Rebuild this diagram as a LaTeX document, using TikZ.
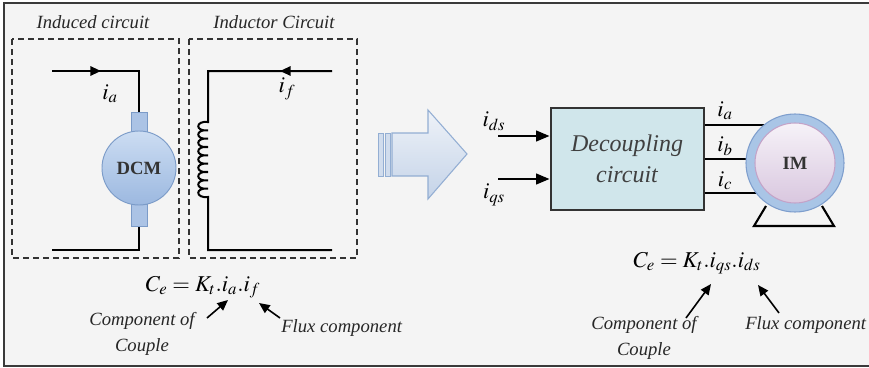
\documentclass[tikz,border=0pt]{standalone}
\usepackage{mathptmx}
\usepackage{fontspec}
\setmainfont{Liberation Serif}
\usetikzlibrary{arrows.meta,calc}

\definecolor{panel}{HTML}{F4F4F4}
\definecolor{framec}{HTML}{3A3A3A}
\definecolor{dashc}{HTML}{333333}
\definecolor{dcmtop}{HTML}{CCDDF2}
\definecolor{dcmbot}{HTML}{9CB8E0}
\definecolor{dcmedge}{HTML}{7B9BC8}
\definecolor{decfill}{HTML}{D0E6EB}
\definecolor{ringfill}{HTML}{A9C5E6}
\definecolor{ringedge}{HTML}{7E9ECD}
\definecolor{imtop}{HTML}{F6F2F8}
\definecolor{imbot}{HTML}{D9C7DF}
\definecolor{imedge}{HTML}{C3A3C8}
\definecolor{arrtop}{HTML}{EEF2F8}
\definecolor{arrbot}{HTML}{C4D3E8}
\definecolor{arredge}{HTML}{93AED3}

\tikzset{
  wire/.style={line width=1.5pt, black},
  dashbox/.style={line width=1.1pt, dashc, dash pattern=on 4.5pt off 3pt},
  title/.style={font=\fontsize{14}{16}\selectfont\itshape, text=black!85},
  lbl/.style={font=\fontsize{14}{19}\selectfont\itshape, text=black!85, align=center, inner sep=0pt},
  cur/.style={font=\fontsize{17}{20}\selectfont, inner sep=0pt},
  formula/.style={font=\fontsize{17}{20}\selectfont, inner sep=0pt},
  tip/.style={-{Triangle[length=8pt,width=7pt]}},
  pointer/.style={line width=1.2pt, -{Triangle[length=8pt,width=7pt]}},
  conn/.style={fill=dcmbot!85, draw=dcmedge, line width=0.6pt},
}

\begin{document}
\begin{tikzpicture}[x=0.75pt,y=-0.75pt]
\useasboundingbox (0,0) rectangle (869,368);
\fill[white] (0,0) rectangle (869,368);
\draw[framec, line width=1.5pt, fill=panel] (4,3) rectangle (875,366);

% ---------- DC machine side ----------
\node[title] (tind) at (93,22) {Induced circuit};
\node[title] (tinr) at (274,22) {Inductor Circuit};
\draw[dashbox] (12,39) rectangle (179,258);
\draw[dashbox] (189,39) rectangle (357,258);

% armature loop
\coordinate (a0) at (52,71);
\coordinate (a1) at (139,71);
\coordinate (a2) at (139,250);
\coordinate (a3) at (52,250);
\draw[wire] (a0) -- (a1) -- (139,112);
\draw[wire] (139,226) -- (a2) -- (a3);
\draw[wire, tip] (a0) -- (101,71);
\node[cur] (ia) at (110,94) {$i_a$};

% DC motor body with its two brush housings
\draw[conn] (131,112) rectangle (147,134);
\draw[conn] (131,204) rectangle (147,226);
\node[circle, minimum size=55.5pt, inner sep=0pt, draw=dcmedge, line width=0.7pt,
      top color=dcmtop, bottom color=dcmbot,
      font=\fontsize{14}{16}\selectfont\bfseries, text=black!80] (dcm) at (139,168) {DCM};

% field loop with winding
\coordinate (f0) at (332,71);
\coordinate (f1) at (208,71);
\coordinate (f2) at (208,250);
\coordinate (f3) at (332,250);
\draw[wire] (f0) -- (f1) -- (208,122)
  \foreach \k in {0,...,8} {
    .. controls (195,{122+8.333*\k-1.5}) and (195,{122+8.333*(\k+1)+1.5}) .. (208,{122+8.333*(\k+1)})
  } -- (f2) -- (f3);
\draw[wire, tip] (f0) -- (280,71);
\node[cur] (if) at (287,89) {$i_f$};

\node[formula] (ce1) at (203,287) {$C_e = K_t.i_a.i_f$};
\node[lbl] (cc1) at (142,334) {Component of\\Couple};
\node[lbl, anchor=west] (fx1) at (281,328) {Flux component};
\draw[pointer] (207,318) -- (228,300);
\draw[pointer] (280,318) -- (259,303);

% ---------- transition arrow ----------
\path[draw=arredge, line width=0.8pt, top color=arrtop, bottom color=arrbot]
  (392,133) -- (428,133) -- (428,110) -- (467,154) -- (428,199) -- (428,176) -- (392,176) -- cycle;
\path[draw=arredge, line width=0.6pt, fill=arrbot!80] (378,133) rectangle (383,176);
\path[draw=arredge, line width=0.6pt, fill=arrbot!80] (385,133) rectangle (390,176);

% ---------- induction machine side ----------
\node[draw=black!80, line width=1.5pt, fill=decfill, minimum width=114.75pt, minimum height=76.5pt,
      align=center, font=\fontsize{18}{23}\selectfont\itshape, text=black!75] (dec) at (627,159)
      {Decoupling\\circuit};

\coordinate (ids) at (498,136);
\coordinate (iqs) at (498,179);
\draw[wire, -{Triangle[length=10pt,width=8pt]}] (ids) -- (ids -| dec.west);
\draw[wire, -{Triangle[length=10pt,width=8pt]}] (iqs) -- (iqs -| dec.west);
\node[cur] (lds) at (494,121) {$i_{ds}$};
\node[cur] (lqs) at (494,195) {$i_{qs}$};

% motor stand
\draw[line width=1.6pt, line join=miter] (766,206) -- (754,226) -- (834,226) -- (822,206);

% phase lines
\coordinate (pa) at (790,125);
\coordinate (pb) at (790,159);
\coordinate (pc) at (790,193);
\draw[wire] (pa -| dec.east) -- (pa);
\draw[wire] (pb -| dec.east) -- (pb);
\draw[wire] (pc -| dec.east) -- (pc);
\node[cur] (la) at (725,111) {$i_a$};
\node[cur] (lb) at (725,146) {$i_b$};
\node[cur] (lc) at (725,181) {$i_c$};

\node[circle, minimum size=73.5pt, inner sep=0pt, draw=ringedge, line width=0.8pt, fill=ringfill] (imr) at (795,163) {};
\node[circle, minimum size=60pt, inner sep=0pt, draw=imedge, line width=0.8pt,
      top color=imtop, bottom color=imbot,
      font=\fontsize{14}{16}\selectfont\bfseries, text=black!80] (im) at (795,163) {IM};

\node[formula] (ce2) at (697,263) {$C_e = K_t.i_{qs}.i_{ds}$};
\node[lbl] (cc2) at (644,338) {Component of\\Couple};
\node[lbl, anchor=west] (fx2) at (745,325) {Flux component};
\draw[pointer] (686,318) -- (711,284);
\draw[pointer] (779,313) -- (758,285);
\end{tikzpicture}
\end{document}
